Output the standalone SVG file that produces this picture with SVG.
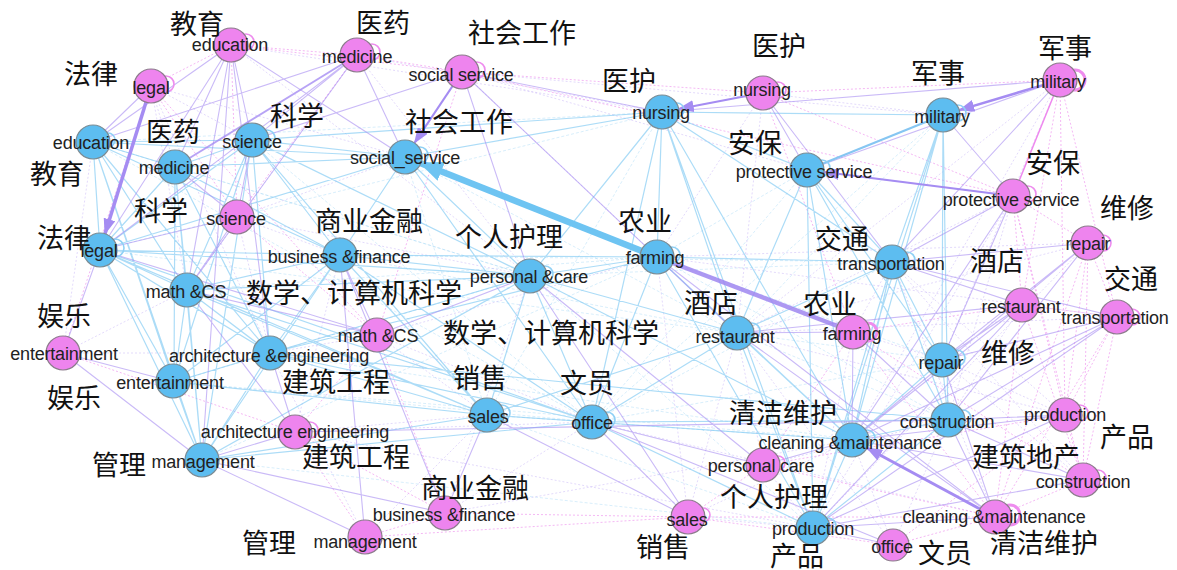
<svg xmlns="http://www.w3.org/2000/svg" width="1177" height="570" viewBox="0 0 1177 570">
<defs>
<style>
.eb{stroke:#7fc9f3;stroke-width:1.2;fill:none;opacity:.65}
.ebh{stroke:#a6d8f6;stroke-width:.8;fill:none;opacity:.55;stroke-dasharray:3 2}
.ep{stroke:#a78cf2;stroke-width:1.1;fill:none;opacity:.6}
.eph{stroke:#c4b0f6;stroke-width:.8;fill:none;opacity:.6;stroke-dasharray:2 2}
.ek{stroke:#f0a0f0;stroke-width:1;fill:none;opacity:.75;stroke-dasharray:2 2}
.lb{stroke:#8fd0f5;stroke-width:1.6;fill:none}
.lp{stroke:#ee8cee;stroke-width:1.6;fill:none}
.nb{fill:#5dbdf0;stroke:#7c8c94;stroke-width:1.2}
.np{fill:#ee84ee;stroke:#8c7c8c;stroke-width:1.2}
.en{font-family:"Liberation Sans",Arial,sans-serif;font-size:18px;fill:#222;text-anchor:middle;letter-spacing:-0.2px}
.zh{font-family:"Noto Sans CJK SC",sans-serif;font-size:27px;fill:#111;text-anchor:middle}
</style>
<marker id="ab" markerUnits="userSpaceOnUse" markerWidth="24" markerHeight="20" refX="22" refY="10" orient="auto"><path d="M0 0L24 10L0 20z" fill="#6ec4f2"/></marker>
<marker id="ap" markerUnits="userSpaceOnUse" markerWidth="16" markerHeight="12" refX="15" refY="6" orient="auto"><path d="M0 0L16 6L0 12z" fill="#a58cf2"/></marker>
</defs>
<rect width="1177" height="570" fill="#fff"/>
<g id="connectors">
<path class="ebh" d="M93 142L530 276M93 142L592 422M100 250L662 112M174 382L530 276M174 382L592 422M202 460L657 257M405 157L657 257M405 157L737 333M405 157L487 415M662 112L487 415M943 115L737 333M943 115L592 422M807 170L592 422M807 170L657 257M892 262L592 422M487 415L813 528M487 415L852 440M592 422L942 360M530 276L813 528M530 276L892 262M657 257L942 360M657 257L948 420M737 333L942 360M737 333L948 420M270 353L852 440M340 255L737 333M252 140L592 422M187 290L657 257M175 167L530 276M93 142L662 112M100 250L737 333M202 460L813 528M174 382L852 440M340 255L892 262"/>
<path class="eph" d="M231 45L662 112M357 55L530 276M357 55L662 112M151 86L405 157M151 86L252 140M151 86L175 167M151 86L187 290M151 86L270 353M462 72L405 157M462 72L943 115M763 93L662 112M763 93L737 333M763 93L943 115M1060 80L942 360M1060 80L852 440M1013 196L807 170M1013 196L737 333M1013 196L948 420M1013 196L813 528M1088 243L737 333M1088 243L813 528M1117 317L737 333M1022 305L948 420M853 332L813 528M853 332L892 262M853 332L942 360M237 217L340 255M237 217L270 353M237 217L530 276M377 335L487 415M377 335L592 422M377 335L270 353M63 353L93 142M63 353L187 290M63 353L270 353M295 432L487 415M295 432L340 255M295 432L592 422M365 537L487 415M365 537L270 353M445 513L592 422M445 513L530 276M688 517L813 528M688 517L852 440M688 517L737 333M763 465L813 528M763 465L948 420M763 465L737 333M893 545L852 440M893 545L948 420M995 517L852 440M995 517L892 262M995 517L592 422M1083 480L942 360M1083 480L892 262M1065 415L942 360M1065 415L892 262M1065 415L737 333M231 45L530 276M357 55L187 290M462 72L807 170M462 72L657 257M763 93L657 257M1060 80L737 333M1088 243L657 257M1117 317L657 257M237 217L405 157M377 335L657 257M295 432L813 528M445 513L852 440M688 517L657 257M893 545L737 333"/>
<path class="ek" d="M231 45L357 55M357 55L462 72M462 72L763 93M763 93L1060 80M231 45L151 86M231 45L462 72M1013 196L1088 243M1088 243L1117 317M1117 317L1065 415M1065 415L1083 480M1083 480L995 517M995 517L893 545M893 545L688 517M688 517L763 465M763 465L995 517M445 513L365 537M445 513L688 517M365 537L295 432M295 432L377 335M377 335L237 217M237 217L151 86M63 353L151 86M63 353L295 432M1022 305L853 332M1022 305L1117 317M853 332L995 517M763 465L853 332M1022 305L995 517M1060 80L1117 317M1060 80L1022 305M1060 80L1065 415M1013 196L1022 305M1013 196L1083 480M1088 243L995 517M1117 317L995 517M1022 305L1083 480M357 55L237 217M462 72L377 335M231 45L237 217M151 86L377 335M445 513L377 335M763 465L1065 415M893 545L1065 415M688 517L995 517M365 537L688 517M295 432L445 513M853 332L1083 480M763 93L853 332M763 93L1013 196M462 72L1013 196M1088 243L1083 480M1117 317L1083 480M1013 196L1065 415M1088 243L1065 415"/>
<path class="eb" d="M100 250L93 142M100 250L175 167M100 250L252 140M100 250L187 290M100 250L270 353M100 250L174 382M100 250L202 460M100 250L340 255M100 250L405 157M100 250L530 276M100 250L592 422M100 250L487 415M93 142L175 167M93 142L252 140M93 142L405 157M93 142L187 290M93 142L270 353M93 142L174 382M93 142L202 460M93 142L340 255M175 167L252 140M175 167L187 290M175 167L270 353M175 167L174 382M175 167L202 460M175 167L340 255M175 167L405 157M252 140L405 157M252 140L187 290M252 140L270 353M252 140L174 382M252 140L202 460M252 140L340 255M252 140L530 276M252 140L487 415M252 140L662 112M187 290L270 353M187 290L174 382M187 290L202 460M187 290L340 255M187 290L530 276M187 290L487 415M187 290L592 422M270 353L174 382M270 353L202 460M270 353L340 255M270 353L530 276M270 353L487 415M270 353L592 422M270 353L948 420M270 353L657 257M202 460L174 382M202 460L340 255M202 460L487 415M202 460L592 422M202 460L530 276M174 382L340 255M174 382L487 415M340 255L530 276M340 255L487 415M340 255L592 422M340 255L405 157M340 255L657 257M530 276L657 257M530 276L487 415M530 276L592 422M530 276L737 333M530 276L662 112M530 276L405 157M530 276L852 440M657 257L892 262M657 257L737 333M657 257L662 112M657 257L592 422M657 257L813 528M657 257L852 440M662 112L943 115M662 112L807 170M662 112L737 333M662 112L592 422M662 112L852 440M662 112L892 262M662 112L813 528M662 112L405 157M943 115L892 262M943 115L942 360M943 115L948 420M943 115L852 440M943 115L813 528M807 170L892 262M807 170L737 333M807 170L942 360M807 170L852 440M807 170L948 420M807 170L813 528M892 262L942 360M892 262L948 420M892 262L852 440M892 262L813 528M892 262L737 333M737 333L592 422M737 333L852 440M737 333L813 528M737 333L487 415M592 422L487 415M592 422L852 440M592 422L813 528M592 422L948 420M852 440L948 420M852 440L813 528M852 440L942 360M948 420L942 360M948 420L813 528M405 157L592 422"/>
<path class="ep" d="M231 45L93 142M231 45L100 250M231 45L252 140M231 45L175 167M231 45L187 290M231 45L405 157M231 45L270 353M231 45L202 460M357 55L252 140M357 55L100 250M357 55L405 157M357 55L93 142M357 55L187 290M151 86L93 142M462 72L662 112M462 72L737 333M462 72L530 276M462 72L252 140M763 93L807 170M763 93L892 262M1060 80L662 112M1060 80L807 170M1060 80L892 262M1013 196L943 115M1013 196L942 360M1013 196L892 262M1013 196L852 440M1088 243L942 360M1088 243L948 420M1088 243L852 440M1088 243L892 262M1117 317L892 262M1117 317L852 440M1117 317L948 420M1117 317L942 360M1117 317L813 528M1022 305L737 333M1022 305L892 262M1022 305L852 440M1022 305L942 360M1022 305L813 528M853 332L948 420M853 332L737 333M853 332L852 440M237 217L252 140M237 217L100 250M237 217L175 167M237 217L187 290M377 335L187 290M377 335L100 250M377 335L530 276M377 335L340 255M63 353L174 382M63 353L100 250M63 353L202 460M295 432L270 353M295 432L202 460M295 432L948 420M295 432L187 290M365 537L202 460M365 537L340 255M445 513L340 255M445 513L487 415M445 513L202 460M688 517L487 415M688 517L592 422M688 517L530 276M763 465L530 276M763 465L852 440M763 465L592 422M893 545L592 422M893 545L813 528M995 517L948 420M995 517L813 528M995 517L737 333M995 517L657 257M995 517L942 360M1083 480L948 420M1083 480L852 440M1083 480L813 528M1065 415L813 528M1065 415L948 420M1065 415L852 440"/>
<path d="M943 115L807 170" stroke="#86c6f2" stroke-width="2.2" fill="none"/>
<path d="M1060 80L1013 196" stroke="#ee88ee" stroke-width="1.5" fill="none"/>
<path d="M357 55L175 167" stroke="#a58cf2" stroke-width="1.8" fill="none" opacity=".8"/>
<path d="M1013 196L823.9 172.1" stroke="#a58cf2" stroke-width="2" fill="none" marker-end="url(#ap)"/>
<path d="M853 332L657 257" stroke="#9f86f0" stroke-width="4.5" fill="none" opacity=".85"/>
<path d="M146 102.2L105 233.8" stroke="#a58cf2" stroke-width="3.5" fill="none" marker-end="url(#ap)"/>
<path d="M1043.7 84.9L959.3 110.1" stroke="#a58cf2" stroke-width="2.5" fill="none" marker-end="url(#ap)"/>
<path d="M746.3 96.1L678.7 108.9" stroke="#a58cf2" stroke-width="2" fill="none" marker-end="url(#ap)"/>
<path d="M452.5 86.1L414.5 142.9" stroke="#a58cf2" stroke-width="2" fill="none" marker-end="url(#ap)"/>
<path d="M980 509L867 448" stroke="#a58cf2" stroke-width="3" fill="none" marker-end="url(#ap)"/>
<path d="M641.2 250.7L420.8 163.3" stroke="#6ec4f2" stroke-width="6.5" fill="none" marker-end="url(#ab)"/>
</g>
<g id="loops">
<circle class="lp" cx="246" cy="42" r="8"/><circle class="lp" cx="372" cy="52" r="8"/><circle class="lp" cx="166" cy="84" r="8"/><circle class="lp" cx="477" cy="70" r="8"/><circle class="lp" cx="778" cy="90" r="8"/><circle class="lp" cx="1075" cy="80" r="10" style="stroke-width:3"/><circle class="lp" cx="1028" cy="194" r="8"/><circle class="lp" cx="1103" cy="243" r="8"/><circle class="lp" cx="1132" cy="317" r="8"/><circle class="lp" cx="868" cy="332" r="9" style="stroke-width:3"/><circle class="lp" cx="310" cy="430" r="8"/><circle class="lp" cx="1098" cy="478" r="8"/><circle class="lp" cx="1080" cy="413" r="8"/><circle class="lp" cx="1010" cy="515" r="10" style="stroke-width:3"/><circle class="lp" cx="703" cy="515" r="7"/><circle class="lp" cx="778" cy="463" r="7"/>
<circle class="lb" cx="420" cy="155" r="8"/><circle class="lb" cx="267" cy="138" r="8"/><circle class="lb" cx="672" cy="255" r="8"/><circle class="lb" cx="752" cy="331" r="8"/><circle class="lb" cx="907" cy="260" r="8"/><circle class="lb" cx="822" cy="168" r="8"/><circle class="lb" cx="957" cy="358" r="8"/><circle class="lb" cx="607" cy="420" r="8"/><circle class="lb" cx="502" cy="413" r="8"/><circle class="lb" cx="958" cy="113" r="8"/><circle class="lb" cx="545" cy="274" r="8"/><circle class="lb" cx="867" cy="438" r="8"/><circle class="lb" cx="963" cy="418" r="8"/><circle class="lb" cx="828" cy="526" r="8"/><circle class="lb" cx="108" cy="140" r="7"/><circle class="lb" cx="115" cy="248" r="9"/><circle class="lb" cx="677" cy="110" r="7"/>
</g>
<g id="n-p-education"><circle class="np" cx="231" cy="45" r="17"/><text class="en" x="230" y="51">education</text><text class="zh" x="197" y="34">教育</text></g>
<g id="n-p-medicine"><circle class="np" cx="357" cy="55" r="17"/><text class="en" x="357" y="63">medicine</text><text class="zh" x="383" y="33">医药</text></g>
<g id="n-p-legal"><circle class="np" cx="151" cy="86" r="17"/><text class="en" x="151" y="94">legal</text><text class="zh" x="91" y="84">法律</text></g>
<g id="n-p-social"><circle class="np" cx="462" cy="72" r="17"/><text class="en" x="461" y="81">social service</text><text class="zh" x="522" y="43">社会工作</text></g>
<g id="n-p-nursing"><circle class="np" cx="763" cy="93" r="17"/><text class="en" x="762" y="96">nursing</text><text class="zh" x="779" y="56">医护</text></g>
<g id="n-p-military"><circle class="np" cx="1060" cy="80" r="17"/><text class="en" x="1058" y="88">military</text><text class="zh" x="1065" y="58">军事</text></g>
<g id="n-p-protective"><circle class="np" cx="1013" cy="196" r="17"/><text class="en" x="1011" y="206">protective service</text><text class="zh" x="1053" y="173">安保</text></g>
<g id="n-p-repair"><circle class="np" cx="1088" cy="243" r="17"/><text class="en" x="1088" y="250">repair</text><text class="zh" x="1127" y="218">维修</text></g>
<g id="n-p-transportation"><circle class="np" cx="1117" cy="317" r="17"/><text class="en" x="1115" y="324">transportation</text><text class="zh" x="1131" y="289">交通</text></g>
<g id="n-p-restaurant"><circle class="np" cx="1022" cy="305" r="17"/><text class="en" x="1021" y="313">restaurant</text><text class="zh" x="997" y="271">酒店</text></g>
<g id="n-p-farming"><circle class="np" cx="853" cy="332" r="17"/><text class="en" x="852" y="340">farming</text><text class="zh" x="830" y="314">农业</text></g>
<g id="n-p-science"><circle class="np" cx="237" cy="217" r="17"/><text class="en" x="236" y="225">science</text><text class="zh" x="161" y="221">科学</text></g>
<g id="n-p-math"><circle class="np" cx="377" cy="335" r="17"/><text class="en" x="378" y="342">math &amp;CS</text><text class="zh" x="551" y="343">数学、计算机科学</text></g>
<g id="n-p-entertainment"><circle class="np" cx="63" cy="353" r="17"/><text class="en" x="64" y="360">entertainment</text><text class="zh" x="64" y="326">娱乐</text></g>
<g id="n-p-architecture"><circle class="np" cx="295" cy="432" r="17"/><text class="en" x="295" y="438">architecture engineering</text><text class="zh" x="356" y="467">建筑工程</text></g>
<g id="n-p-management"><circle class="np" cx="365" cy="537" r="17"/><text class="en" x="365" y="548">management</text><text class="zh" x="269" y="553">管理</text></g>
<g id="n-p-business"><circle class="np" cx="445" cy="513" r="17"/><text class="en" x="444" y="521">business &amp;finance</text><text class="zh" x="475" y="498">商业金融</text></g>
<g id="n-p-sales"><circle class="np" cx="688" cy="517" r="17"/><text class="en" x="687" y="526">sales</text><text class="zh" x="663" y="557">销售</text></g>
<g id="n-p-personal"><circle class="np" cx="763" cy="465" r="17"/><text class="en" x="761" y="472">personal care</text><text class="zh" x="774" y="507">个人护理</text></g>
<g id="n-p-office"><circle class="np" cx="893" cy="545" r="16"/><text class="en" x="892" y="553">office</text><text class="zh" x="945" y="563">文员</text></g>
<g id="n-p-cleaning"><circle class="np" cx="995" cy="517" r="17"/><text class="en" x="994" y="523">cleaning &amp;maintenance</text><text class="zh" x="1044" y="553">清洁维护</text></g>
<g id="n-p-construction"><circle class="np" cx="1083" cy="480" r="17"/><text class="en" x="1083" y="488">construction</text></g>
<g id="n-p-production"><circle class="np" cx="1065" cy="415" r="17"/><text class="en" x="1065" y="421">production</text><text class="zh" x="1127" y="447">产品</text></g>
<g id="n-b-education"><circle class="nb" cx="93" cy="142" r="17"/><text class="en" x="91" y="149">education</text><text class="zh" x="57" y="184">教育</text></g>
<g id="n-b-medicine"><circle class="nb" cx="175" cy="167" r="17"/><text class="en" x="174" y="174">medicine</text><text class="zh" x="173" y="142">医药</text></g>
<g id="n-b-science"><circle class="nb" cx="252" cy="140" r="17"/><text class="en" x="252" y="148">science</text><text class="zh" x="297" y="126">科学</text></g>
<g id="n-b-social"><circle class="nb" cx="405" cy="157" r="17"/><text class="en" x="405" y="164">social_service</text><text class="zh" x="459" y="132">社会工作</text></g>
<g id="n-b-nursing"><circle class="nb" cx="662" cy="112" r="17"/><text class="en" x="661" y="119">nursing</text><text class="zh" x="629" y="91">医护</text></g>
<g id="n-b-military"><circle class="nb" cx="943" cy="115" r="17"/><text class="en" x="942" y="123">military</text><text class="zh" x="938" y="83">军事</text></g>
<g id="n-b-protective"><circle class="nb" cx="807" cy="170" r="17"/><text class="en" x="804" y="178">protective service</text><text class="zh" x="755" y="153">安保</text></g>
<g id="n-b-legal"><circle class="nb" cx="100" cy="250" r="17"/><text class="zh" x="64" y="248">法律</text><text class="en" x="99" y="257">legal</text></g>
<g id="n-b-math"><circle class="nb" cx="187" cy="290" r="17"/><text class="en" x="186" y="298">math &amp;CS</text><text class="zh" x="354" y="303">数学、计算机科学</text></g>
<g id="n-b-business"><circle class="nb" cx="340" cy="255" r="17"/><text class="en" x="339" y="263">business &amp;finance</text><text class="zh" x="369" y="231">商业金融</text></g>
<g id="n-b-personal"><circle class="nb" cx="530" cy="276" r="17"/><text class="en" x="529" y="283">personal &amp;care</text><text class="zh" x="509" y="247">个人护理</text></g>
<g id="n-b-farming"><circle class="nb" cx="657" cy="257" r="17"/><text class="en" x="655" y="264">farming</text><text class="zh" x="645" y="231">农业</text></g>
<g id="n-b-restaurant"><circle class="nb" cx="737" cy="333" r="17"/><text class="en" x="735" y="343">restaurant</text><text class="zh" x="711" y="313">酒店</text></g>
<g id="n-b-transportation"><circle class="nb" cx="892" cy="262" r="17"/><text class="en" x="891" y="270">transportation</text><text class="zh" x="842" y="249">交通</text></g>
<g id="n-b-repair"><circle class="nb" cx="942" cy="360" r="17"/><text class="en" x="941" y="369">repair</text><text class="zh" x="1008" y="363">维修</text></g>
<g id="n-b-architecture"><circle class="nb" cx="270" cy="353" r="17"/><text class="en" x="269" y="362">architecture &amp;engineering</text><text class="zh" x="336" y="392">建筑工程</text></g>
<g id="n-b-entertainment"><circle class="nb" cx="173" cy="381" r="17"/><text class="en" x="170" y="389">entertainment</text><text class="zh" x="74" y="408">娱乐</text></g>
<g id="n-b-sales"><circle class="nb" cx="487" cy="415" r="17"/><text class="en" x="488" y="423">sales</text><text class="zh" x="480" y="388">销售</text></g>
<g id="n-b-office"><circle class="nb" cx="592" cy="422" r="17"/><text class="en" x="592" y="429">office</text><text class="zh" x="587" y="393">文员</text></g>
<g id="n-b-management"><circle class="nb" cx="202" cy="460" r="17"/><text class="en" x="203" y="468">management</text><text class="zh" x="119" y="475">管理</text></g>
<g id="n-b-cleaning"><circle class="nb" cx="852" cy="440" r="17"/><text class="en" x="850" y="449">cleaning &amp;maintenance</text><text class="zh" x="783" y="423">清洁维护</text></g>
<g id="n-b-construction"><circle class="nb" cx="948" cy="420" r="17"/><text class="en" x="947" y="428">construction</text><text class="zh" x="1026" y="467">建筑地产</text></g>
<g id="n-b-production"><circle class="nb" cx="813" cy="528" r="17"/><text class="en" x="813" y="535">production</text><text class="zh" x="797" y="566">产品</text></g>
</svg>
